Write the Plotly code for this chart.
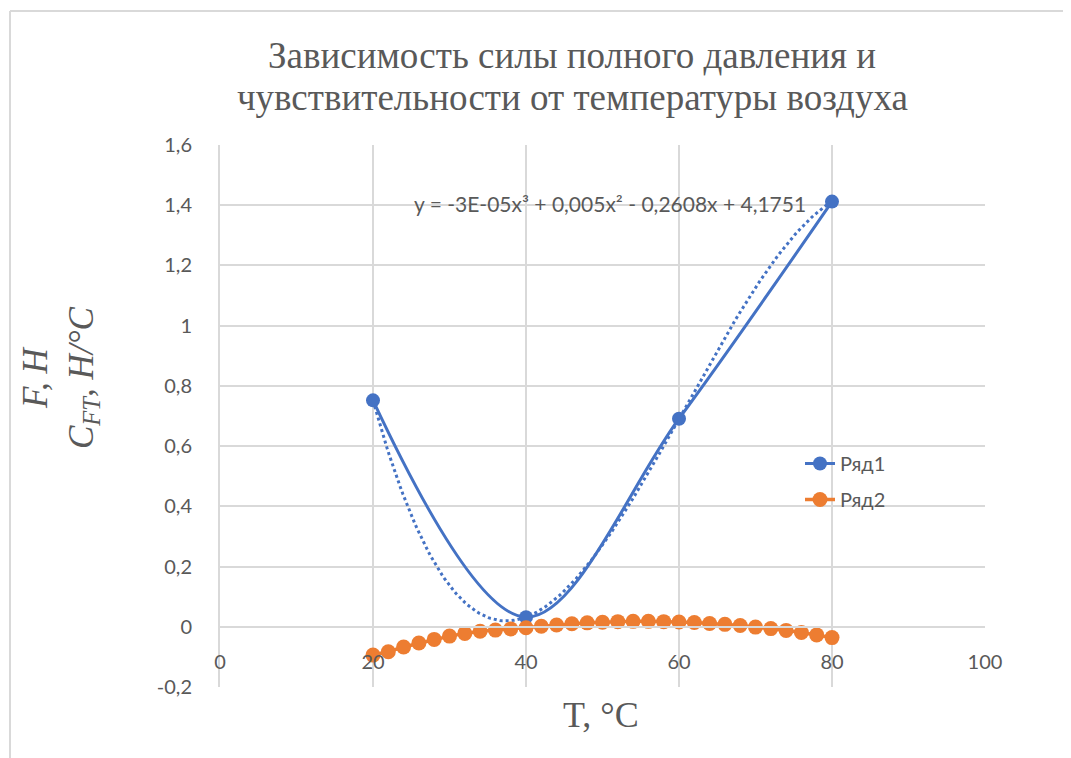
import numpy as np
import plotly.graph_objects as go

# ---- data ----
t1 = [20, 40, 60, 80]
f1 = [0.752, 0.032, 0.691, 1.412]

t2 = list(range(20, 81, 2))
f2 = [-0.094, -0.083, -0.067, -0.054, -0.042, -0.031, -0.022, -0.015, -0.011, -0.007,
      -0.003, 0.002, 0.006, 0.010, 0.013, 0.015, 0.017, 0.018, 0.018, 0.017,
      0.016, 0.014, 0.011, 0.008, 0.004, -0.001, -0.006, -0.012, -0.019, -0.027,
      -0.036]

x_ticks = [0, 20, 40, 60, 80, 100]
y_ticks = [-0.2, 0, 0.2, 0.4, 0.6, 0.8, 1.0, 1.2, 1.4, 1.6]
y_ticktext = ["-0,2", "0", "0,2", "0,4", "0,6", "0,8", "1", "1,2", "1,4", "1,6"]

title_lines = ["Зависимость силы полного давления и", "чувствительности от температуры воздуха"]
equation = "y = -3E-05x³ + 0,005x² - 0,2608x + 4,1751"

# ---- trendline (cubic fit of series 1) ----
coef = np.polyfit(t1, f1, 3)
tt = np.linspace(20, 80, 200)
ft = np.polyval(coef, tt)

BLUE = "#4472C4"
ORANGE = "#ED7D31"
GREY_TXT = "#595959"
GRID = "#d9d9d9"

fig = go.Figure()
fig.add_trace(go.Scatter(x=tt, y=ft, mode="lines", showlegend=False,
                         line=dict(color=BLUE, width=3, dash="dot"), hoverinfo="skip"))
fig.add_trace(go.Scatter(x=t1, y=f1, mode="lines+markers", name="Ряд1",
                         legendgroup="a",
                         line=dict(color=BLUE, width=3, shape="spline", smoothing=1.0),
                         marker=dict(color=BLUE, size=14)))
fig.add_trace(go.Scatter(x=t2, y=f2, mode="lines+markers", name="Ряд2",
                         legendgroup="b",
                         line=dict(color=ORANGE, width=3.5),
                         marker=dict(color=ORANGE, size=15)))

OFF = 8  # page body margin
W, H = 1071 - OFF, 758 - OFF
L, R, T, B = 220 - OFF, 86, 145 - OFF, 71
pw = W - L - R
ph = H - T - B


def px_x(px):
    return (px - OFF - L) / pw


def px_y(py):
    return (H - B - (py - OFF)) / ph


zero_pos = (0 - (-0.2)) / (1.6 - (-0.2))

fig.update_layout(
    width=W, height=H,
    margin=dict(l=L, r=R, t=T, b=B),
    paper_bgcolor="white", plot_bgcolor="white",
    legend=dict(x=px_x(800), y=px_y(444), xanchor="left", yanchor="top",
                font=dict(family="Lato", size=20, color=GREY_TXT),
                traceorder="grouped", tracegroupgap=7,
                bgcolor="rgba(0,0,0,0)"),
    xaxis=dict(range=[0, 100], tickvals=x_ticks, showgrid=True, gridcolor=GRID,
               gridwidth=2, zeroline=False, showline=True, linecolor=GRID, linewidth=2,
               anchor="free", position=zero_pos, ticks="", ticklabelstandoff=17,
               tickfont=dict(family="Lato", size=20, color=GREY_TXT)),
    yaxis=dict(range=[-0.2, 1.6], tickvals=y_ticks, ticktext=y_ticktext,
               showgrid=True, gridcolor=GRID, gridwidth=2, zeroline=False,
               showline=True, linecolor=GRID, linewidth=2, ticks="",
               ticklabelstandoff=22,
               tickfont=dict(family="Lato", size=20, color=GREY_TXT)),
    showlegend=True,
)

# chart title (two lines)
for line_text, cy in zip(title_lines, [55, 98]):
    fig.add_annotation(text=line_text, xref="paper", yref="paper", x=px_x(572), y=px_y(cy),
                       showarrow=False, xanchor="center", yanchor="middle",
                       font=dict(family="Liberation Serif", size=37, color=GREY_TXT))

# axis titles
fig.add_annotation(text="<i>F, Н</i><br><i>C<sub>FT</sub>, Н/°C</i>", textangle=-90,
                   xref="paper", yref="paper", x=px_x(60), y=px_y(378),
                   showarrow=False, xanchor="center", yanchor="middle",
                   font=dict(family="Liberation Serif", size=35, color=GREY_TXT))
fig.add_annotation(text="T, °C", xref="paper", yref="paper", x=px_x(601), y=px_y(715),
                   showarrow=False, xanchor="center", yanchor="middle",
                   font=dict(family="Liberation Serif", size=36, color=GREY_TXT))
# trendline equation
fig.add_annotation(text=equation, xref="x", yref="y", x=51.0, y=1.405, showarrow=False,
                   xanchor="center", yanchor="middle",
                   font=dict(family="Lato", size=21, color=GREY_TXT))

# outer chart border (top and left edges)
fx0 = px_x(10)
fy1 = px_y(11)
fig.add_shape(type="line", xref="paper", yref="paper", x0=fx0, x1=1.3, y0=fy1, y1=fy1,
              line=dict(color=GRID, width=2), layer="below")
fig.add_shape(type="line", xref="paper", yref="paper", x0=fx0, x1=fx0, y0=-0.3, y1=fy1,
              line=dict(color=GRID, width=2), layer="below")

fig.write_html("out.html")
